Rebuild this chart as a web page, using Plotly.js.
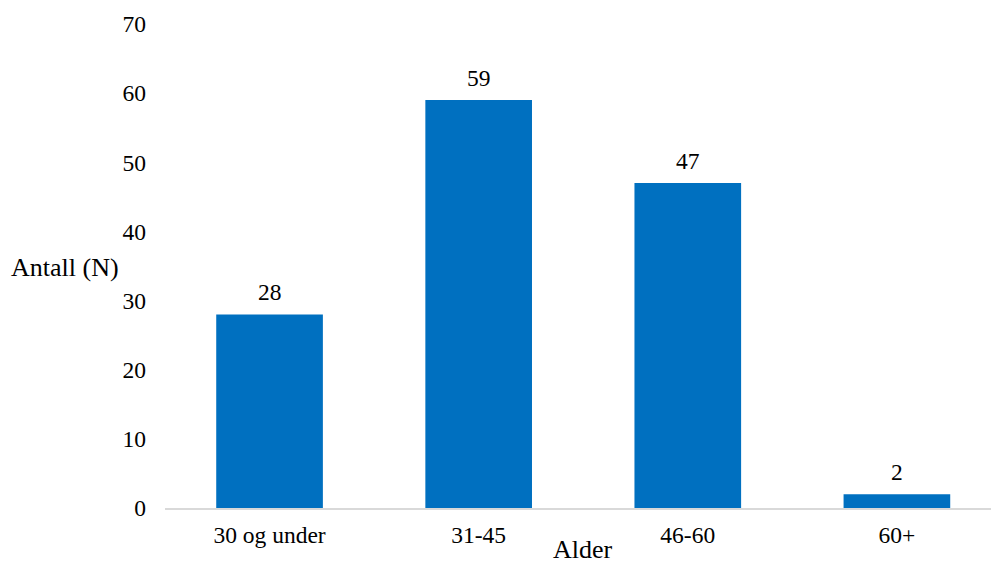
<!DOCTYPE html>
<html>
<head>
<meta charset="utf-8">
<script src="https://cdn.plot.ly/plotly-3.0.1.min.js"></script>
<style>
  html, body { margin: 0; padding: 0; background: #fff; overflow: hidden; }
  #chart { width: 991px; height: 561px; }
</style>
</head>
<body>
<div id="chart"></div>
<script>
// Age groups and respondent counts
const categories = ['30 og under', '31-45', '46-60', '60+'];
const counts = [28, 59, 47, 2];
const yTicks = [0, 10, 20, 30, 40, 50, 60, 70];

const FONT = 'Liberation Serif, Times New Roman, serif';
const SIZE = 23.5;
const TITLE_SIZE = 26;

const trace = {
  type: 'bar',
  x: categories,
  y: counts,
  marker: { color: '#0070C0' },
  hoverinfo: 'x+y'
};

// Value labels placed above each bar
const valueLabels = categories.map((c, i) => ({
  x: c, y: counts[i], xref: 'x', yref: 'y',
  text: String(counts[i]),
  showarrow: false, yanchor: 'bottom', yshift: 7,
  font: { family: FONT, size: SIZE, color: '#000' }
}));

const layout = {
  width: 991, height: 561,
  margin: { l: 165, r: 0, t: 24, b: 53 },
  paper_bgcolor: '#fff', plot_bgcolor: '#fff',
  showlegend: false,
  bargap: 0.49,
  font: { family: FONT, size: SIZE, color: '#000' },
  xaxis: {
    type: 'category',
    range: [-0.5, 3.45],
    showgrid: false, zeroline: false,
    showline: true, linecolor: '#d9d9d9', linewidth: 2,
    ticks: '', tickfont: { family: FONT, size: SIZE, color: '#000' },
    ticklabelstandoff: 5
  },
  yaxis: {
    range: [0, 70],
    tickvals: yTicks,
    showgrid: false, zeroline: false, showline: false,
    ticks: '', tickfont: { family: FONT, size: SIZE, color: '#000' },
    ticklabelstandoff: 18
  },
  annotations: valueLabels.concat([
    { text: 'Antall (N)', xref: 'paper', yref: 'paper', x: 0, y: 0.497,
      xanchor: 'center', yanchor: 'middle', showarrow: false, xshift: -100,
      font: { family: FONT, size: TITLE_SIZE, color: '#000' } },
    { text: 'Alder', xref: 'paper', yref: 'paper', x: 0.5, y: 0,
      xanchor: 'center', yanchor: 'middle', showarrow: false, yshift: -41, xshift: 5,
      font: { family: FONT, size: TITLE_SIZE, color: '#000' } }
  ])
};

Plotly.newPlot('chart', [trace], layout, { displayModeBar: false });
</script>
</body>
</html>
